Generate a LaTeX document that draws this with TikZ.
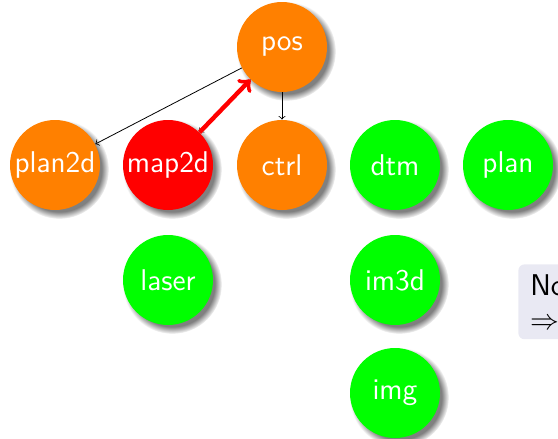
\documentclass[tikz,border=0pt]{standalone}
\usetikzlibrary{shadows}
\definecolor{blockbg}{RGB}{233,233,243}
\begin{document}
\begin{tikzpicture}[x=0.5pt, y=-0.5pt,
    modul/.style={circle, minimum size=45pt, inner sep=0pt, text=white,
        font=\sffamily\fontsize{15}{17}\selectfont,
        circular drop shadow={shadow xshift=2pt, shadow yshift=-2pt}},
    laeuft/.style={modul, fill=orange},
    fehler/.style={modul, fill=red},
    fertig/.style={modul, fill=green},
    hinweis/.style={rectangle, rounded corners=3pt, fill=blockbg, align=left,
        anchor=north west, text width=80pt, minimum height=37pt,
        inner xsep=6pt, inner ysep=5pt, font=\sffamily\fontsize{15}{17}\selectfont}
]
    \useasboundingbox (0,0) rectangle (558,439);

    % Module
    \node[laeuft] (pos) at (282,47) {pos};
    \node[laeuft] (plan2d) at (55,165) {plan2d};
    \node[fehler] (map2d) at (168,165) {map2d};
    \node[laeuft] (ctrl) at (282,165) {ctrl};
    \node[fertig] (dtm) at (395,165) {dtm};
    \node[fertig] (plan) at (508,165) {plan};
    \node[fertig] (laser) at (168,280) {laser};
    \node[fertig] (im3d) at (395,280) {im3d};
    \node[fertig] (img) at (395,393) {img};

    % Abhaengigkeiten
    \draw[->] (pos) -- (plan2d);
    \draw[->] (pos) -- (ctrl);
    \draw[->] (pos) -- (map2d);
    \draw[->, red, line width=2.2pt] (map2d) -- (pos); % hervorgehoben

    % Hinweis rechts
    \node[hinweis] (info) at (518,264) {No\\$\Rightarrow$};
\end{tikzpicture}
\end{document}
